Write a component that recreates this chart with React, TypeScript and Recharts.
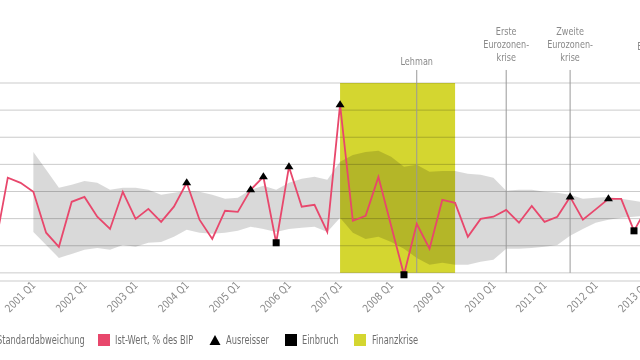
import React from 'react';
import {
  ComposedChart,
  Line,
  Area,
  Scatter,
  XAxis,
  YAxis,
  CartesianGrid,
  ReferenceArea,
  ReferenceLine,
} from 'recharts';

// ---------- data ----------
const quarters: string[] = [
  '2000 Q2', '2000 Q3', '2000 Q4',
  '2001 Q1', '2001 Q2', '2001 Q3', '2001 Q4',
  '2002 Q1', '2002 Q2', '2002 Q3', '2002 Q4',
  '2003 Q1', '2003 Q2', '2003 Q3', '2003 Q4',
  '2004 Q1', '2004 Q2', '2004 Q3', '2004 Q4',
  '2005 Q1', '2005 Q2', '2005 Q3', '2005 Q4',
  '2006 Q1', '2006 Q2', '2006 Q3', '2006 Q4',
  '2007 Q1', '2007 Q2', '2007 Q3', '2007 Q4',
  '2008 Q1', '2008 Q2', '2008 Q3', '2008 Q4',
  '2009 Q1', '2009 Q2', '2009 Q3', '2009 Q4',
  '2010 Q1', '2010 Q2', '2010 Q3', '2010 Q4',
  '2011 Q1', '2011 Q2', '2011 Q3', '2011 Q4',
  '2012 Q1', '2012 Q2', '2012 Q3', '2012 Q4',
  '2013 Q1',
];

// Ist-Wert, % des BIP
const istWert: number[] = [
  0.96, 3.51, 3.32,
  2.99, 1.48, 0.96, 2.62,
  2.80, 2.07, 1.62, 2.99,
  1.99, 2.36, 1.88, 2.44,
  3.32, 1.96, 1.25, 2.29,
  2.25, 3.06, 3.54, 1.11,
  3.91, 2.44, 2.51, 1.51,
  6.20, 1.92, 2.10, 3.54,
  1.73, -0.07, 1.81, 0.89,
  2.69, 2.58, 1.33, 1.99,
  2.07, 2.32, 1.85, 2.47,
  1.88, 2.07, 2.80, 1.96,
  2.34, 2.73, 2.73, 1.55,
  2.40,
];

// Standardabweichung band (starts 2001 Q1)
const bandUpper: (number | null)[] = [
  null, null, null,
  4.46, 3.80, 3.14, 3.25,
  3.39, 3.32, 3.06, 3.14,
  3.14, 3.06, 2.88, 2.95,
  3.03, 2.99, 2.88, 2.73,
  2.77, 3.06, 3.21, 3.06,
  3.32, 3.47, 3.54, 3.43,
  4.10, 4.35, 4.46, 4.50,
  4.28, 3.91, 3.99, 3.73,
  3.76, 3.76, 3.65, 3.62,
  3.51, 3.03, 3.06, 3.06,
  2.99, 2.95, 2.88, 2.73,
  2.77, 2.80, 2.73, 2.66,
  2.58,
];
const bandLower: (number | null)[] = [
  null, null, null,
  1.51, 1.03, 0.55, 0.70,
  0.85, 0.92, 0.85, 1.03,
  0.96, 1.11, 1.14, 1.33,
  1.59, 1.48, 1.44, 1.48,
  1.55, 1.70, 1.62, 1.51,
  1.62, 1.66, 1.70, 1.51,
  2.03, 1.48, 1.25, 1.33,
  1.14, 0.89, 0.55, 0.30,
  0.37, 0.30, 0.30, 0.41,
  0.48, 0.89, 0.89, 0.92,
  0.96, 1.03, 1.37, 1.62,
  1.85, 1.96, 2.03, 2.07,
  2.10,
];

const ausreisserQuarters = ['2004 Q1', '2005 Q2', '2005 Q3', '2006 Q1', '2007 Q1', '2011 Q3', '2012 Q2'];
const einbruchQuarters = ['2005 Q4', '2008 Q2', '2012 Q4'];

const finanzkriseStart = '2007 Q1';
const finanzkriseEnd = '2009 Q2';

const events: { quarter: string; lines: string[] }[] = [
  { quarter: '2008 Q3', lines: ['Lehman'] },
  { quarter: '2010 Q2', lines: ['Erste', 'Eurozonen-', 'krise'] },
  { quarter: '2011 Q3', lines: ['Zweite', 'Eurozonen-', 'krise'] },
  { quarter: '2013 Q1', lines: ['EZB-', 'QE'] },
];

const yTicks = [0, 1, 2, 3, 4, 5, 6, 7];
const yearTicks = ['2001 Q1', '2002 Q1', '2003 Q1', '2004 Q1', '2005 Q1', '2006 Q1', '2007 Q1', '2008 Q1', '2009 Q1', '2010 Q1', '2011 Q1', '2012 Q1', '2013 Q1'];

const legendLabels = ['Standardabweichung', 'Ist-Wert, % des BIP', 'Ausreisser', 'Einbruch', 'Finanzkrise'];

// ---------- derived tables ----------
const qIndex = (q: string) => quarters.indexOf(q);
const yMin = yTicks[0];
const yMax = yTicks[yTicks.length - 1];

const data = quarters.map((q, k) => ({
  k,
  quarter: q,
  value: istWert[k],
  band: bandUpper[k] == null || bandLower[k] == null ? null : [bandLower[k], bandUpper[k]],
}));
const ausreisserData = ausreisserQuarters.map((q) => ({ k: qIndex(q), value: istWert[qIndex(q)] }));
const einbruchData = einbruchQuarters.map((q) => ({ k: qIndex(q), value: istWert[qIndex(q)] }));

// ---------- styles ----------
const FONT = "'DejaVu Sans Condensed', 'DejaVu Sans', sans-serif";
const PINK = '#e8476c';
const YELLOW = '#d4d630';
const GRID = '#cbcbcb';
const EVENT_LINE = '#999999';
const LABEL_GRAY = '#8a8a8a';
const LEGEND_GRAY = '#6f6f6f';
const NARROW = 0.82;

// legend layout (swatch left, text left) in px
const legendLayout = [
  { sw: -20, tx: -3 },
  { sw: 98, tx: 115 },
  { sw: 209, tx: 226 },
  { sw: 285, tx: 302 },
  { sw: 354, tx: 372 },
];
const legendKinds = ['band', 'line', 'tri', 'sq', 'crisis'];

const QuarterTick = (props: any) => {
  const { x, y, payload } = props;
  const ax = x + 3;
  const ay = y - 3;
  return (
    <text
      transform={`translate(${ax}, ${ay}) rotate(-45) scale(0.9, 1)`}
      x={0}
      y={0}
      textAnchor="end"
      fontSize={11}
      fontFamily={FONT}
      fill={LABEL_GRAY}
    >
      {quarters[payload.value]}
    </text>
  );
};

const EventLabel = (props: any) => {
  const { viewBox, lines } = props;
  if (!viewBox) return null;
  const cx = viewBox.x + (viewBox.width || 0) / 2;
  const top = Math.min(viewBox.y, viewBox.y + (viewBox.height || 0));
  const n = lines.length;
  const lastBaseline = top - 5 - 2 * (n - 1);
  return (
    <g>
      {lines.map((t: string, j: number) => (
        <text
          key={j}
          transform={`translate(${cx}, ${lastBaseline - (n - 1 - j) * 12.8}) scale(${NARROW}, 1)`}
          x={0}
          y={0}
          textAnchor="middle"
          fontSize={11}
          fontFamily={FONT}
          fill={LABEL_GRAY}
        >
          {t}
        </text>
      ))}
    </g>
  );
};

// yellow crisis block, multiplied so the grid lines beneath stay visible
const CrisisShape = (p: any) => {
  const x = Number(p.x);
  const y = Number(p.y);
  const w = Number(p.width);
  const h = Number(p.height);
  if (!isFinite(x) || !isFinite(y)) return <g />;
  return (
    <rect
      x={Math.min(x, x + w)}
      y={Math.min(y, y + h)}
      width={Math.abs(w)}
      height={Math.abs(h)}
      fill={YELLOW}
      style={{ mixBlendMode: 'multiply' }}
    />
  );
};

const TriangleShape = (p: any) => {
  const { cx, cy } = p;
  return <polygon points={`${cx - 4.5},${cy + 2.5} ${cx + 4.5},${cy + 2.5} ${cx},${cy - 4.5}`} fill="#000" />;
};
const SquareShape = (p: any) => {
  const { cx, cy } = p;
  return <rect x={cx - 3.5} y={cy - 3.5} width={7} height={7} fill="#000" />;
};

const Swatch = ({ kind }: { kind: string }) => {
  if (kind === 'tri') {
    return (
      <svg width={12} height={12} style={{ display: 'block' }}>
        <polygon points="0.5,11 11.5,11 6,1" fill="#000" />
      </svg>
    );
  }
  const color = kind === 'band' ? '#d9d9d9' : kind === 'line' ? PINK : kind === 'sq' ? '#000' : YELLOW;
  return <div style={{ width: 12, height: 12, background: color }} />;
};

export default function App() {
  return (
    <div
      style={{
        position: 'absolute',
        left: 0,
        top: 0,
        width: 640,
        height: 360,
        overflow: 'hidden',
        background: '#fff',
        fontFamily: FONT,
      }}
    >
      <ComposedChart
        width={640}
        height={360}
        data={data}
        margin={{ top: 83, right: 0, bottom: 49, left: 0 }}
      >
        <CartesianGrid vertical={false} stroke={GRID} strokeWidth={1} />
        <ReferenceArea
          x1={qIndex(finanzkriseStart)}
          x2={qIndex(finanzkriseEnd)}
          y1={yMin}
          y2={yMax}
          ifOverflow="visible"
          shape={(p: any) => <CrisisShape {...p} />}
        />
        <XAxis
          dataKey="k"
          type="number"
          domain={[0.39, 50.47]}
          allowDataOverflow
          ticks={yearTicks.map(qIndex)}
          interval={0}
          axisLine={false}
          tickLine={false}
          height={30}
          tick={<QuarterTick />}
        />
        <YAxis type="number" domain={[-0.3, 7]} ticks={yTicks} hide allowDataOverflow />
        <Area
          dataKey="band"
          type="linear"
          fill="#000"
          fillOpacity={0.15}
          stroke="none"
          isAnimationActive={false}
          connectNulls={false}
          activeDot={false}
        />
        {events.map((e) => (
          <ReferenceLine
            key={e.quarter}
            segment={[
              { x: qIndex(e.quarter), y: 0 },
              { x: qIndex(e.quarter), y: 7.48 },
            ]}
            stroke={EVENT_LINE}
            strokeWidth={1}
            ifOverflow="visible"
            label={<EventLabel lines={e.lines} />}
          />
        ))}
        <Line
          dataKey="value"
          type="linear"
          stroke={PINK}
          strokeWidth={1.8}
          dot={false}
          activeDot={false}
          isAnimationActive={false}
        />
        <Scatter data={ausreisserData} dataKey="value" shape={TriangleShape} isAnimationActive={false} />
        <Scatter data={einbruchData} dataKey="value" shape={SquareShape} isAnimationActive={false} />
      </ComposedChart>
      {legendLabels.map((label, i) => (
        <React.Fragment key={label}>
          <div style={{ position: 'absolute', left: legendLayout[i].sw, top: 334 }}>
            <Swatch kind={legendKinds[i]} />
          </div>
          <span
            style={{
              position: 'absolute',
              left: legendLayout[i].tx,
              top: 332,
              fontSize: 11.5,
              lineHeight: '16px',
              color: LEGEND_GRAY,
              whiteSpace: 'nowrap',
              transform: `scaleX(${NARROW - 0.02})`,
              transformOrigin: 'left center',
            }}
          >
            {label}
          </span>
        </React.Fragment>
      ))}
    </div>
  );
}
